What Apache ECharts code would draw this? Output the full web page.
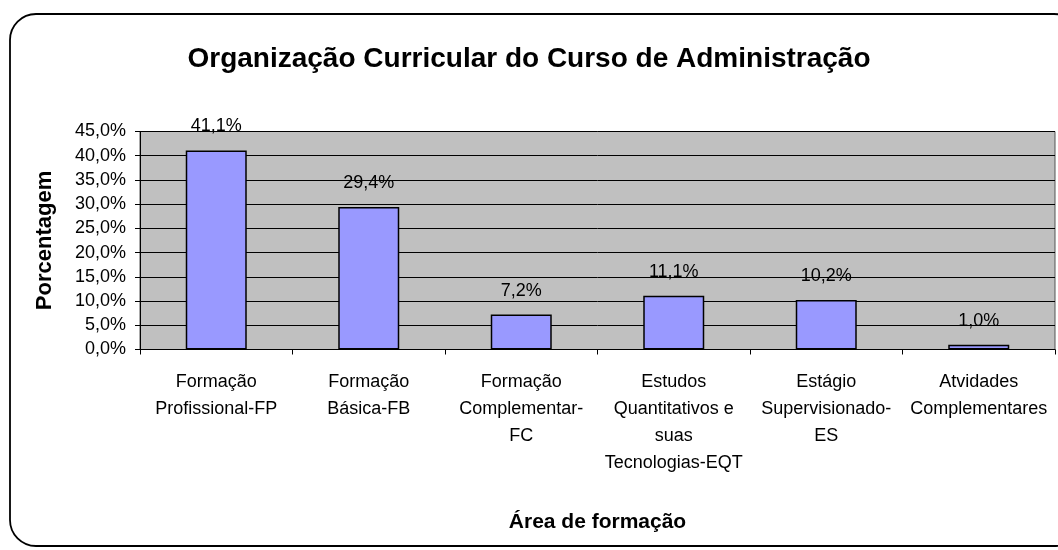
<!DOCTYPE html>
<html>
<head>
<meta charset="utf-8">
<script src="https://cdn.jsdelivr.net/npm/echarts@6/dist/echarts.min.js"></script>
<style>
    html, body { margin: 0; padding: 0; background: #fff; }
    #chart { width: 1058px; height: 550px; }
</style>
</head>
<body>
<div id="chart"></div>
<script>
// dados do gráfico
var categorias = [
    'Formação\nProfissional-FP',
    'Formação\nBásica-FB',
    'Formação\nComplementar-\nFC',
    'Estudos\nQuantitativos e\nsuas\nTecnologias-EQT',
    'Estágio\nSupervisionado-\nES',
    'Atvidades\nComplementares'
];
var porcentagens = [41.1, 29.4, 7.2, 11.1, 10.2, 1.0];

var fonte = '"Liberation Sans", Arial, sans-serif';

function fmt(v) {
    return v.toFixed(1).replace('.', ',') + '%';
}

var myChart = echarts.init(document.getElementById('chart'));
myChart.setOption({
    animation: false,
    backgroundColor: '#fff',
    textStyle: { fontFamily: fonte },
    title: {
        text: 'Organização Curricular do Curso de Administração',
        left: 'center',
        top: 40,
        textStyle: { fontSize: 28, fontWeight: 'bold', color: '#000', fontFamily: fonte }
    },
    graphic: [
        {
            type: 'rect',
            z: -1,
            shape: { x: 10, y: 14, width: 1070, height: 532, r: 26 },
            style: { fill: 'none', stroke: '#000', lineWidth: 1.8 }
        }
    ],
    grid: {
        left: 140,
        right: 3,
        top: 131.5,
        bottom: 200.5,
        show: true,
        backgroundColor: '#C0C0C0',
        borderColor: '#555',
        borderWidth: 1
    },
    xAxis: {
        type: 'category',
        data: categorias,
        name: 'Área de formação',
        nameLocation: 'middle',
        nameGap: 162,
        nameTextStyle: { fontSize: 21, fontWeight: 'bold', color: '#000', fontFamily: fonte },
        axisLine: { lineStyle: { color: '#000', width: 1 } },
        axisTick: { show: true, interval: 0, length: 5, lineStyle: { color: '#000' } },
        axisLabel: {
            interval: 0,
            color: '#000',
            fontSize: 18,
            lineHeight: 27,
            margin: 19,
            fontFamily: fonte
        }
    },
    yAxis: {
        type: 'value',
        min: 0,
        max: 45,
        interval: 5,
        name: 'Porcentagem',
        nameLocation: 'middle',
        nameGap: 84,
        nameTextStyle: { fontSize: 22, fontWeight: 'bold', color: '#000', fontFamily: fonte },
        axisLine: { show: true, lineStyle: { color: '#000', width: 1 } },
        axisTick: { show: true, length: 5, lineStyle: { color: '#000' } },
        splitLine: { lineStyle: { color: '#000', width: 1 } },
        axisLabel: {
            color: '#000',
            fontSize: 18,
            margin: 14,
            fontFamily: fonte,
            formatter: function (v) { return fmt(v); }
        }
    },
    series: [
        {
            name: 'Porcentagem',
            type: 'bar',
            data: porcentagens,
            barWidth: '40%',
            itemStyle: { color: '#9999FF', borderColor: '#000', borderWidth: 1.5 },
            label: {
                show: true,
                position: 'top',
                distance: 15,
                color: '#000',
                fontSize: 18,
                fontFamily: fonte,
                formatter: function (p) { return fmt(p.value); }
            }
        }
    ]
});
</script>
</body>
</html>
